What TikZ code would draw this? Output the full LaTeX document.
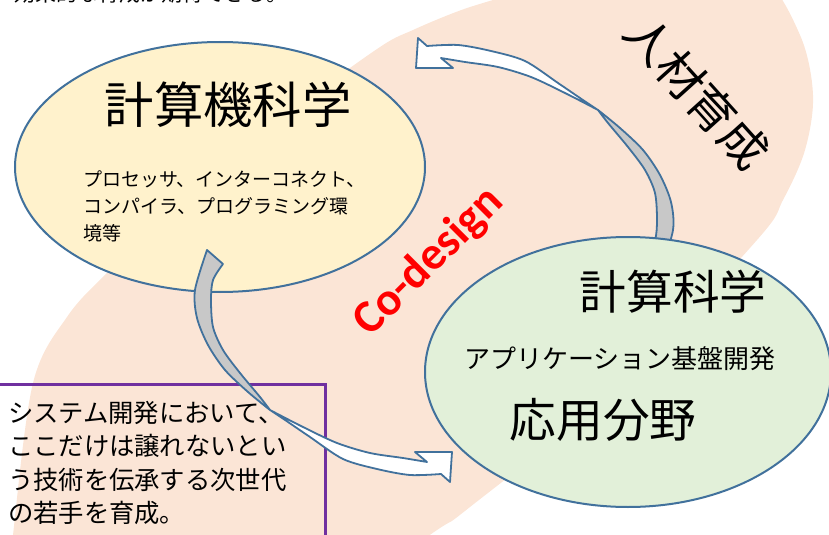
\documentclass[tikz,border=0pt]{standalone}
\usepackage{fontspec}
\setmainfont{Noto Sans CJK JP}
\newfontfamily\latinfont{Carlito}
\definecolor{pinkbg}{RGB}{251,229,214}
\definecolor{yellowfill}{RGB}{255,242,204}
\definecolor{greenfill}{RGB}{226,240,217}
\definecolor{edgeblue}{RGB}{65,113,156}
\definecolor{boxpurple}{RGB}{112,48,160}
\definecolor{bandgray}{RGB}{200,200,200}
\definecolor{codered}{RGB}{255,0,0}
\tikzset{
  blob/.style={draw=edgeblue, line width=1.5pt},
  arrowline/.style={draw=edgeblue, line width=1.35pt, line join=round},
  txt/.style={inner sep=0pt, outer sep=0pt, text=black},
}
\newcommand{\twistarrow}[1]{%
  \coordinate (#1T1) at (207,250);
  \coordinate (#1T2) at (223,264);
  \coordinate (#1o1) at (195,290);
  \coordinate (#1o2) at (197,318);
  \coordinate (#1o3) at (208,345);
  \coordinate (#1o4) at (225,370);
  \coordinate (#1o5) at (248,392);
  \coordinate (#1X) at (270,410);
  \coordinate (#1w1) at (288,422);
  \coordinate (#1w2) at (310,437);
  \coordinate (#1w3) at (343,459);
  \coordinate (#1w4) at (377,469);
  \coordinate (#1w5) at (410,475);
  \coordinate (#1L) at (441,474);
  \coordinate (#1B2) at (450,482);
  \coordinate (#1tip) at (452,452);
  \coordinate (#1B1) at (415,452);
  \coordinate (#1U) at (427,462);
  \coordinate (#1u1) at (403,458);
  \coordinate (#1u2) at (370,453);
  \coordinate (#1u3) at (337,443);
  \coordinate (#1u4) at (303,427);
  \coordinate (#1i1) at (260,397);
  \coordinate (#1i2) at (240,373);
  \coordinate (#1i3) at (223,350);
  \coordinate (#1i4) at (213,327);
  \coordinate (#1i5) at (211,300);
  \coordinate (#1i6) at (213,280);
  \fill[white] plot[smooth] coordinates {(#1X) (#1w1) (#1w2) (#1w3) (#1w4) (#1w5) (#1L)}
     -- (#1B2) -- (#1tip) -- (#1B1) -- (#1U)
     -- plot[smooth] coordinates {(#1U) (#1u1) (#1u2) (#1u3) (#1u4) (#1X)} -- cycle;
  \fill[bandgray] plot[smooth] coordinates {(#1T1) (#1o1) (#1o2) (#1o3) (#1o4) (#1o5) (#1X)}
     -- plot[smooth] coordinates {(#1X) (#1i1) (#1i2) (#1i3) (#1i4) (#1i5) (#1i6) (#1T2)} -- cycle;
  \draw[arrowline] plot[smooth] coordinates {(#1T1) (#1o1) (#1o2) (#1o3) (#1o4) (#1o5) (#1X)}
     -- plot[smooth] coordinates {(#1X) (#1w1) (#1w2) (#1w3) (#1w4) (#1w5) (#1L)}
     -- (#1B2) -- (#1tip) -- (#1B1) -- (#1U)
     -- plot[smooth] coordinates {(#1U) (#1u1) (#1u2) (#1u3) (#1u4) (#1X)}
     -- plot[smooth] coordinates {(#1X) (#1i1) (#1i2) (#1i3) (#1i4) (#1i5) (#1i6) (#1T2)} -- cycle;
}
\begin{document}
\begin{tikzpicture}[x=0.75pt,y=-0.75pt]
\useasboundingbox (0,0) rectangle (829,535);
\clip (0,0) rectangle (829,535);
% background pink blob
\fill[pinkbg] plot[smooth cycle, tension=0.55] coordinates {
  (493,0) (580,-25) (680,-40) (760,-25) (800,35) (813,95) (805,150) (783,200)
  (757,240) (620,385) (470,507) (437,530) (330,600) (180,650) (60,650) (8,600)
  (13,535) (33,383) (67,317) (110,270) (200,185) (300,105) (380,47) (413,30) (456,12)};
% upper arrow (behind green ellipse)
\begin{scope}[rotate around={180:(434,260)}]
  \twistarrow{a}
\end{scope}
% ellipses
\filldraw[blob, fill=greenfill] (628,372) ellipse [x radius=203, y radius=135];
\filldraw[blob, fill=yellowfill] (220,167) ellipse [x radius=205, y radius=125];
% texts in yellow ellipse
\node[txt, font=\fontsize{37pt}{40pt}\selectfont] (cs) at (228,105) {計算機科学};
\node[txt, anchor=west, align=left, font=\fontsize{14.25pt}{20.25pt}\selectfont] (csdet) at (83,206)
  {プロセッサ、インターコネクト、\\コンパイラ、プログラミング環\\境等};
% texts in green ellipse
\node[txt, font=\fontsize{35pt}{38pt}\selectfont] (comp) at (673,292) {計算科学};
\node[txt, font=\fontsize{19.5pt}{22pt}\selectfont] (app) at (620,359) {アプリケーション基盤開発};
\node[txt, font=\fontsize{35pt}{38pt}\selectfont] (field) at (603,420) {応用分野};
% purple box
\draw[boxpurple, line width=2.25pt] (-10,384) rectangle (325,560);
\node[txt, anchor=west, align=left, font=\fontsize{19pt}{25pt}\selectfont] (boxtxt) at (8,463)
  {システム開発において、\\ここだけは譲れないとい\\う技術を伝承する次世代\\の若手を育成。};
% lower arrow
\twistarrow{b}
% rotated labels
\node[txt, text=codered, rotate=45, font=\latinfont\bfseries\fontsize{35pt}{37pt}\selectfont] (codesign) at (429,262) {Co-design};
\node[txt, rotate=-48, font=\fontsize{35pt}{38pt}\selectfont] (jinzai) at (697,92) {人材育成};
% clipped line at the top
\node[txt, anchor=west, font=\fontsize{15.75pt}{18pt}\selectfont] (topline) at (15,-6) {効果的な育成が期待できる。};
\end{tikzpicture}
\end{document}
